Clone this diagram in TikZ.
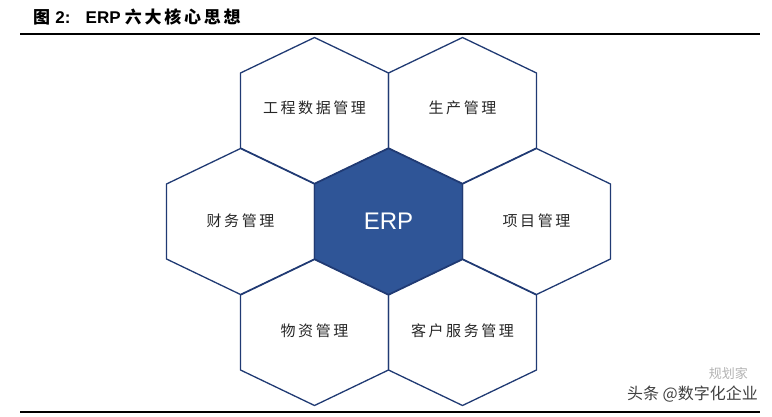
\documentclass[tikz,border=0pt]{standalone}
\usepackage{fontspec}
\setmainfont{Liberation Sans}
\newfontfamily\cjk{Noto Sans CJK SC}
\newfontfamily\cjkspaced[LetterSpace=17]{Noto Sans CJK SC}
\newfontfamily\cjkbold[LetterSpace=16]{Noto Sans CJK SC Bold}
\definecolor{erpfill}{RGB}{47,85,151}
\definecolor{hexline}{RGB}{32,58,115}
\begin{document}
\begin{tikzpicture}[x=1pt,y=-1pt,
  hexline/.style={draw=hexline,line width=1.3pt,line join=miter},
  hexlabel/.style={font=\cjkspaced\fontsize{15}{17}\selectfont,text=black!85,inner sep=0pt},
  rule/.style={line width=2.2pt,black}]
\useasboundingbox (0,0) rectangle (772,416);
% title
\node[anchor=west,inner sep=0pt,font=\fontsize{17}{19}\selectfont\bfseries] (title) at (33,17)
  {{\cjkbold 图}\hspace{0.3em}2:\hspace{0.9em}ERP\hspace{0.25em}{\cjkbold 六大核心思想}};
\coordinate (tl) at (20,34);
\coordinate (tr) at (760,34);
\draw[rule] (tl) -- (tr);
\coordinate (bl) at (20,412);
\coordinate (br) at (760,412);
\draw[rule] (bl) -- (br);
% hexagons
\newcommand\hexat[3][]{%
  \path[hexline,#1] (#2,#3) ++(0,-73) -- ++(74,35.5) -- ++(0,75) -- ++(-74,35.5)
    -- ++(-74,-35.5) -- ++(0,-75) -- cycle;}
\hexat{314.5}{110.5}
\hexat{462.5}{110.5}
\hexat{240.5}{221.5}
\hexat{536.5}{221.5}
\hexat{314.5}{332.5}
\hexat{462.5}{332.5}
\hexat[fill=erpfill]{388.5}{221.5}
\node[hexlabel] (gc) at (314.5,108) {工程数据管理};
\node[hexlabel] (sc) at (462.5,108) {生产管理};
\node[hexlabel] (cw) at (240.5,221) {财务管理};
\node[hexlabel] (xm) at (536.5,221) {项目管理};
\node[hexlabel] (wz) at (314.5,331) {物资管理};
\node[hexlabel] (kh) at (462.5,331) {客户服务管理};
\node[inner sep=0pt,text=white,font=\fontsize{24}{26}\selectfont] (erp) at (388.5,221.5) {ERP};
% watermark
\node[anchor=east,inner sep=0pt,text=black!30,font=\cjk\fontsize{13}{15}\selectfont] (wm2) at (748,374) {规划家};
\node[anchor=east,inner sep=0pt,text=black!75,font=\cjk\fontsize{16}{18}\selectfont] (wm) at (758,394) {头条 @数字化企业};
\end{tikzpicture}
\end{document}
